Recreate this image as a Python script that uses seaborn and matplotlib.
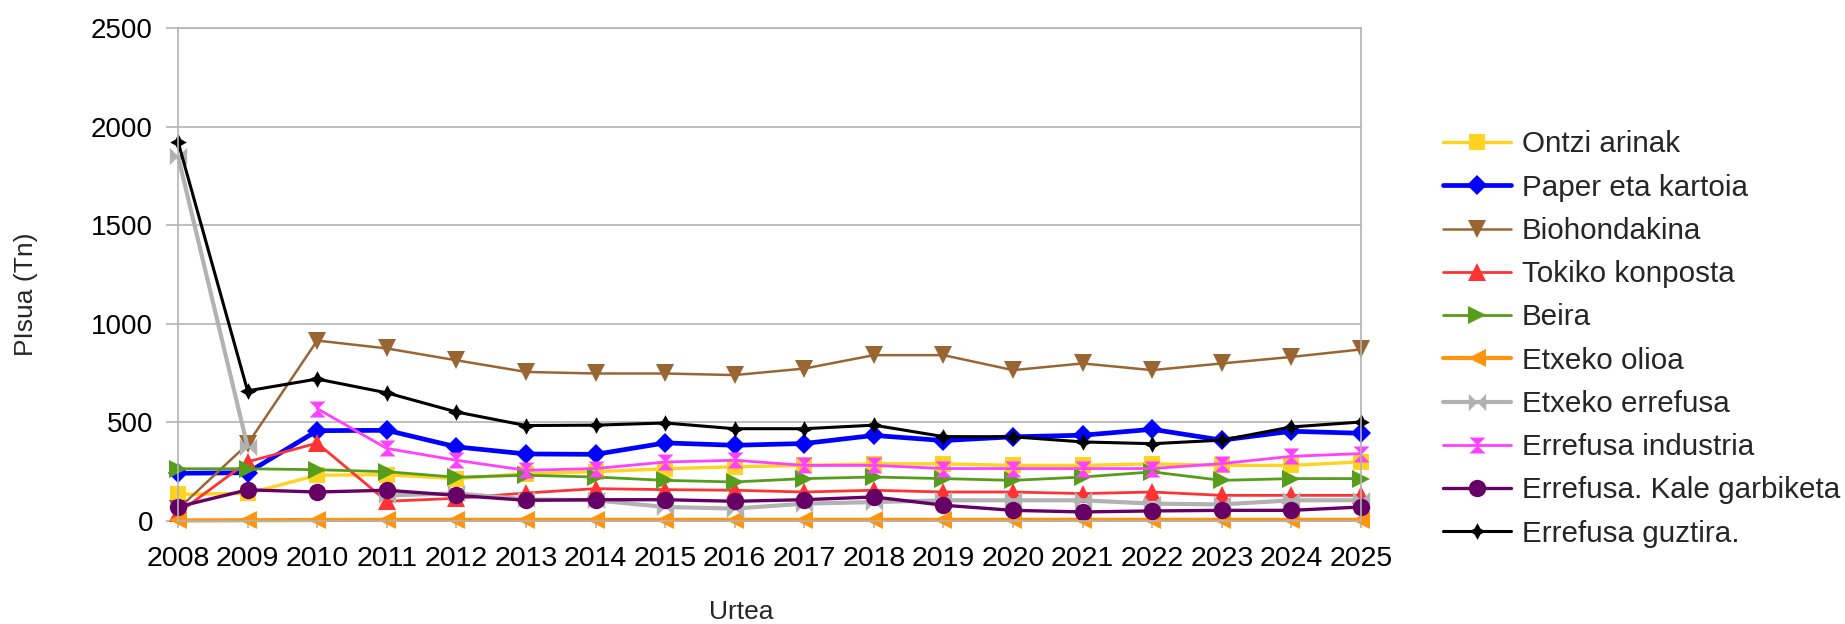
import numpy as np
import pandas as pd
import matplotlib
matplotlib.use("Agg")
import matplotlib.pyplot as plt
import seaborn as sns

years = list(range(2008, 2026))

ontzi_arinak = [135, 140, 232, 235, 215, 240, 250, 265, 275, 282, 290, 290, 282, 282, 290, 282, 282, 300]
paper_kartoia = [242, 245, 458, 460, 376, 340, 338, 396, 384, 393, 434, 408, 427, 435, 465, 410, 455, 445]
biohondakina = [60, 390, 915, 875, 815, 756, 748, 748, 740, 773, 841, 841, 765, 799, 765, 799, 832, 870]
tokiko_konposta = [40, 300, 395, 100, 115, 142, 164, 159, 156, 147, 156, 147, 147, 139, 147, 130, 130, 130]
beira = [265, 265, 260, 250, 222, 232, 223, 206, 198, 215, 223, 215, 206, 223, 249, 206, 215, 215]
etxeko_olioa = [3, 4, 5, 6, 6, 6, 6, 6, 6, 6, 6, 6, 6, 6, 6, 6, 6, 6]
etxeko_errefusa = [1850, 376, np.nan, 130, 140, 110, 105, 71, 63, 88, 96, 105, 105, 105, 88, 84, 105, 105]
errefusa_industria = [np.nan, np.nan, 570, 368, 308, 257, 266, 299, 308, 282, 282, 266, 266, 266, 266, 291, 328, 342]
errefusa_kale = [72, 158, 147, 156, 130, 105, 108, 108, 100, 108, 122, 80, 54, 46, 51, 54, 54, 71]
errefusa_guztira = [1924, 660, 720, 650, 553, 484, 486, 497, 468, 468, 486, 428, 427, 401, 392, 410, 477, 502]

labels = ["Ontzi arinak", "Paper eta kartoia", "Biohondakina", "Tokiko konposta",
          "Beira", "Etxeko olioa", "Etxeko errefusa", "Errefusa industria",
          "Errefusa. Kale garbiketa", "Errefusa guztira."]
y_ticks = [0, 500, 1000, 1500, 2000, 2500]

sns.set_theme(style="white")
plt.rcParams['font.family'] = ['Liberation Sans', 'DejaVu Sans']

bowtie = [(-1, 1), (-1, -1), (1, 1), (1, -1), (-1, 1)]
hourglass = [(-1, 1), (1, 1), (-1, -1), (1, -1), (-1, 1)]

styles = [
    dict(color="#ffd320", marker="s", ms=11.5, lw=2.4),
    dict(color="#0000ff", marker="D", ms=10, lw=3.4),
    dict(color="#996633", marker="v", ms=13, lw=1.8),
    dict(color="#ff3333", marker="^", ms=13, lw=2.0),
    dict(color="#579d1c", marker=">", ms=13, lw=2.0),
    dict(color="#ff950e", marker="<", ms=13, lw=3.0),
    dict(color="#b2b2b2", marker=bowtie, ms=12.5, lw=3.0),
    dict(color="#ff40ff", marker=hourglass, ms=11.5, lw=2.0),
    dict(color="#660066", marker="o", ms=12.5, lw=2.4),
    dict(color="#000000", marker=(4, 1, 0), ms=12, lw=2.2),
]
series = [ontzi_arinak, paper_kartoia, biohondakina, tokiko_konposta, beira,
          etxeko_olioa, etxeko_errefusa, errefusa_industria, errefusa_kale, errefusa_guztira]

fig = plt.figure(figsize=(18.45, 6.24), dpi=100)
ax = fig.add_axes([178/1845, 1-521/624, (1361-178)/1845, (521-28)/624])

handles = []
for lab, vals, st in zip(labels, series, styles):
    df = pd.DataFrame({"year": years, "val": vals})
    # split into contiguous segments so gaps are kept
    isnan = df["val"].isna().values
    seg_id = np.cumsum(isnan)
    first = True
    for sid in np.unique(seg_id[~isnan]):
        sub = df[(seg_id == sid) & (~isnan)]
        sns.lineplot(data=sub, x="year", y="val", ax=ax, color=st["color"],
                     marker=st["marker"], markersize=st["ms"], linewidth=st["lw"],
                     markeredgewidth=0, label=lab if first else "_nolegend_",
                     clip_on=False, legend=False)
        first = False
    handles.append(ax.lines[-1])

ax.set_xlim(2008, 2025)
ax.set_ylim(0, 2500)
ax.set_yticks(y_ticks)
ax.set_xticks(years)
ax.set_xticklabels([str(y) for y in years])
ax.set_xlabel("")
ax.set_ylabel("")
ax.yaxis.grid(True, color="#b3b3b3", linewidth=1.2)
ax.xaxis.grid(False)
for sp in ax.spines.values():
    sp.set_color("#b3b3b3")
    sp.set_linewidth(1.2)
ax.tick_params(axis="y", which="major", direction="out", length=9, width=1.2,
               color="#b3b3b3", pad=9, labelsize=20, labelcolor="#000000", left=True)
ax.tick_params(axis="x", which="major", direction="out", length=5, width=1.2,
               color="#b3b3b3", pad=13, labelsize=20.5, labelcolor="#000000", bottom=True)

fig.text(26/1845, 1-294/624, "PIsua (Tn)", rotation=90, ha="center", va="center", fontsize=19)
fig.text(741/1845, 1-612/624, "Urtea", ha="center", va="center", fontsize=19)

fig.legend(handles=handles, labels=labels, loc="upper left",
           bbox_to_anchor=(1443/1845, 1-130.5/624), frameon=False, fontsize=21.3,
           handlelength=2.3, handletextpad=0.36, labelspacing=0.515,
           borderpad=0, borderaxespad=0, numpoints=1)

fig.savefig("out.png", dpi=100)
